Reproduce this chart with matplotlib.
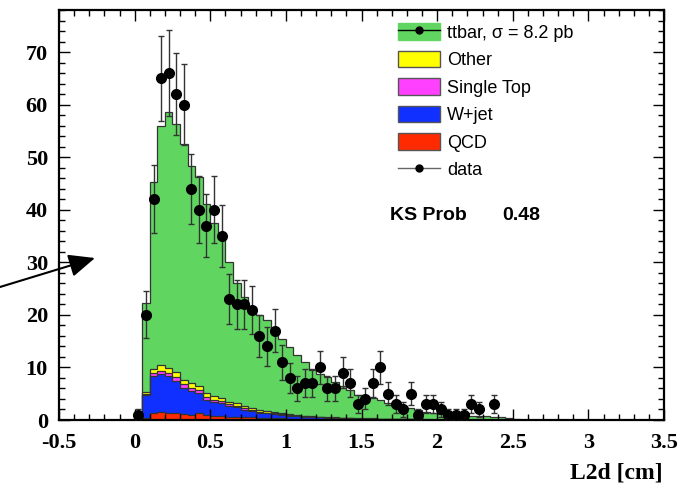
import numpy as np
import matplotlib
matplotlib.use("Agg")
import matplotlib.pyplot as plt
from matplotlib.ticker import MultipleLocator, FuncFormatter
from matplotlib.patches import Patch
from matplotlib.lines import Line2D

# binning: 51 bins of 0.05 cm starting at 0
bin_lo = 0.0
bin_w = 0.05
n_bins = 51

# stacked MC components (events per bin)
qcd = [0.0, 0.3, 1.3, 1.5, 1.4, 1.3, 1.2, 1.0, 1.3, 0.9,
       0.8, 0.8, 0.6, 0.6, 0.5, 0.5, 0.4, 0.35, 0.3, 0.3,
       0.25, 0.2, 0.2, 0.15, 0.15, 0.1, 0.1, 0.1, 0.1, 0.05,
       0.05, 0.05, 0.05, 0.04, 0.03, 0.03, 0.02, 0.02, 0.02, 0.01,
       0.01, 0.01, 0.01, 0.0, 0.0, 0.0, 0.0, 0.0, 0.0, 0.0, 0.0]
wjet = [0.0, 4.4, 7.1, 7.2, 6.9, 6.2, 4.9, 4.6, 3.8, 3.0,
        2.7, 2.4, 2.05, 1.8, 1.4, 1.15, 1.0, 0.9, 0.8, 0.7,
        0.6, 0.5, 0.45, 0.4, 0.35, 0.3, 0.25, 0.22, 0.2, 0.2,
        0.18, 0.18, 0.15, 0.12, 0.1, 0.1, 0.08, 0.07, 0.06, 0.05,
        0.05, 0.04, 0.04, 0.03, 0.03, 0.02, 0.02, 0.02, 0.01, 0.01, 0.0]
stop = [0.0, 0.3, 0.5, 0.7, 0.7, 0.7, 0.7, 0.5, 0.6, 0.5,
        0.4, 0.4, 0.35, 0.25, 0.3, 0.25, 0.2, 0.15, 0.15, 0.12,
        0.1, 0.1, 0.08, 0.08, 0.06, 0.05, 0.05, 0.04, 0.04, 0.03,
        0.03, 0.03, 0.02, 0.02, 0.02, 0.01, 0.01, 0.01, 0.01, 0.01,
        0.0, 0.0, 0.0, 0.0, 0.0, 0.0, 0.0, 0.0, 0.0, 0.0, 0.0]
other = [0.0, 0.4, 0.8, 1.0, 0.9, 1.0, 0.9, 1.0, 0.75, 0.8,
         0.65, 0.6, 0.5, 0.55, 0.45, 0.3, 0.3, 0.25, 0.2, 0.2,
         0.15, 0.15, 0.12, 0.1, 0.1, 0.08, 0.08, 0.06, 0.05, 0.05,
         0.04, 0.04, 0.03, 0.03, 0.02, 0.02, 0.02, 0.01, 0.01, 0.01,
         0.01, 0.01, 0.0, 0.0, 0.0, 0.0, 0.0, 0.0, 0.0, 0.0, 0.0]
ttbar = [0.1, 16.9, 35.5, 45.5, 48.7, 47.2, 44.8, 41.3, 39.75, 35.8,
         32.95, 31.3, 26.5, 22.8, 20.75, 19.3, 18.0, 17.35, 15.65, 14.18,
         12.8, 11.35, 10.25, 8.77, 8.14, 7.67, 6.72, 6.08, 5.41, 4.47,
         4.1, 3.9, 3.65, 3.09, 2.53, 2.24, 2.07, 1.79, 1.4, 1.22,
         1.13, 0.94, 0.95, 0.87, 0.77, 0.73, 0.68, 0.63, 0.49, 0.44, 0.2]

data = [1, 20, 42, 65, 66, 62, 60, 44, 40, 37,
        40, 35, 23, 22, 22, 21, 16, 14, 17, 11,
        8, 6, 7, 7, 10, 6, 6, 9, 7, 3,
        4, 7, 10, 5, 3, 2, 5, 1, 3, 3,
        2, 1, 1, 1, 3, 2, 0, 3, 0, 0, 0]

labels = ["ttbar, \u03c3 = 8.2 pb", "Other", "Single Top", "W+jet", "QCD", "data"]
c_tt, c_oth, c_st, c_w, c_qcd = "#60d660", "#ffff00", "#ff40ff", "#1030ff", "#ff2a00"

edges = bin_lo + bin_w * np.arange(n_bins + 1)
centers = 0.5 * (edges[:-1] + edges[1:])

c1 = np.array(qcd)
c2 = c1 + np.array(wjet)
c3 = c2 + np.array(stop)
c4 = c3 + np.array(other)
c5 = c4 + np.array(ttbar)

fig = plt.figure(figsize=(6.86, 4.83), dpi=100)
ax = fig.add_axes([59 / 686, 63 / 483, 605 / 686, 410 / 483])

for cum, col in [(c5, c_tt), (c4, c_oth), (c3, c_st), (c2, c_w), (c1, c_qcd)]:
    ax.stairs(cum, edges, fill=True, facecolor=col, edgecolor="#333333", lw=0.9)

d = np.array(data, dtype=float)
m = d > 0
ax.errorbar(centers[m], d[m], yerr=np.sqrt(d[m]), fmt="o", color="black",
            ms=7, ecolor="#333333", elinewidth=1, capsize=2, capthick=1, zorder=5)

ax.set_xlim(-0.5, 3.5)
ax.set_ylim(0, 78)
ax.xaxis.set_major_locator(MultipleLocator(0.5))
ax.xaxis.set_minor_locator(MultipleLocator(0.1))
ax.yaxis.set_major_locator(MultipleLocator(10))
ax.yaxis.set_minor_locator(MultipleLocator(2))
ax.xaxis.set_major_formatter(FuncFormatter(lambda v, p: "%g" % v))
ax.tick_params(which="both", direction="in", top=True, right=True, width=1)
ax.tick_params(which="major", length=8)
ax.tick_params(which="minor", length=4)
ax.tick_params(axis="x", pad=9)
ax.tick_params(axis="y", pad=8)
for lab in ax.get_xticklabels() + ax.get_yticklabels():
    lab.set_family("Liberation Serif")
    lab.set_fontweight("bold")
    lab.set_fontsize(16)
for s in ax.spines.values():
    s.set_linewidth(1.6)

fig.text(663 / 686, 1 - 473 / 483, "L2d [cm]", ha="right", va="center",
         family="Liberation Serif", fontweight="bold", fontsize=17)

h_tt = (Patch(facecolor=c_tt, edgecolor=c_tt),
        Line2D([], [], color="black", lw=1, marker="o", ms=5))
h_oth = Patch(facecolor=c_oth, edgecolor="#555555")
h_st = Patch(facecolor=c_st, edgecolor="#555555")
h_w = Patch(facecolor=c_w, edgecolor="#555555")
h_qcd = Patch(facecolor=c_qcd, edgecolor="#555555")
h_data = Line2D([], [], color="#666666", lw=1, marker="o", mfc="black", mec="black", ms=5)
ax.legend([h_tt, h_oth, h_st, h_w, h_qcd, h_data], labels,
          loc="upper left", bbox_to_anchor=((398 - 59) / 605, (420 - 23) / 410),
          frameon=False, borderpad=0, borderaxespad=0,
          prop={"family": "Liberation Sans", "size": 13},
          handlelength=2.3, handleheight=1.05, labelspacing=0.5, handletextpad=0.4)

fig.text(390 / 686, 1 - 216 / 483, "KS Prob", ha="left", va="center",
         family="Liberation Sans", fontweight="bold", fontsize=14)
fig.text(502 / 686, 1 - 216 / 483, "0.48", ha="left", va="center",
         family="Liberation Sans", fontweight="bold", fontsize=14)

ax.annotate("", xy=(95, 483 - 258), xycoords="figure pixels",
            xytext=(0, 483 - 287), textcoords="figure pixels",
            arrowprops=dict(arrowstyle="-|>,head_length=0.8,head_width=0.35",
                            color="black", lw=1.5, mutation_scale=20,
                            shrinkA=0, shrinkB=0),
            annotation_clip=False)

fig.savefig("out.png", dpi=100)
